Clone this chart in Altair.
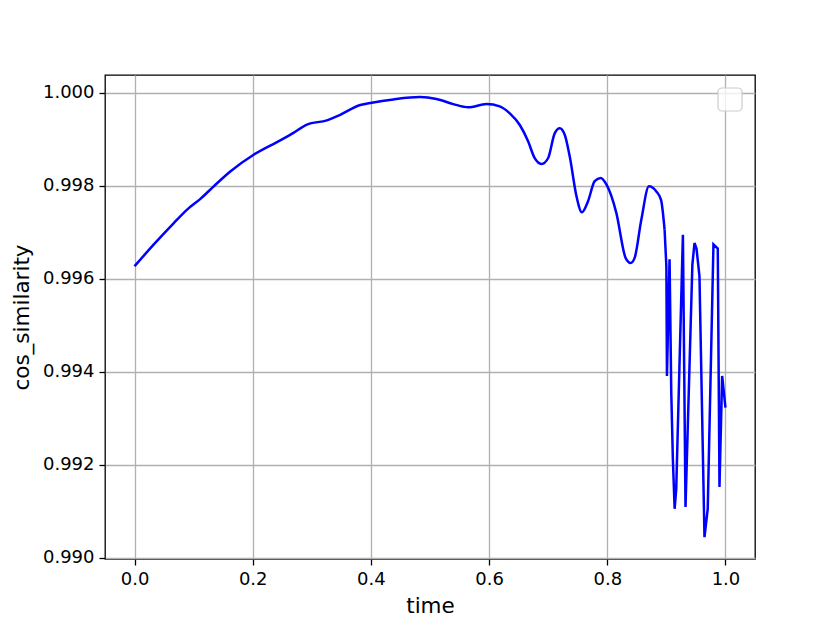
import altair as alt
import pandas as pd

time = [0.0, 0.0326, 0.0664, 0.089, 0.1115, 0.134, 0.162, 0.2015, 0.2466, 0.269,
        0.2917, 0.3255, 0.348, 0.382, 0.4015, 0.438, 0.483, 0.511, 0.5394, 0.5647,
        0.5957, 0.618, 0.635, 0.652, 0.666, 0.677, 0.6887, 0.700, 0.711, 0.7196,
        0.728, 0.7365, 0.748, 0.757, 0.7674, 0.7787, 0.7889, 0.7985, 0.8153, 0.831,
        0.8395, 0.8463, 0.8576, 0.8705, 0.883, 0.891, 0.897,
        0.900, 0.901, 0.9054, 0.9083, 0.911, 0.914, 0.9167, 0.928, 0.9324,
        0.944, 0.9476, 0.951, 0.956, 0.9645, 0.970, 0.9797, 0.987, 0.9899, 0.9944, 1.0]
cos_similarity = [0.99627, 0.99674, 0.99720, 0.99749, 0.99772, 0.99799, 0.99831, 0.99867, 0.99898, 0.99914,
                  0.99932, 0.99941, 0.99953, 0.99974, 0.99979, 0.99986, 0.99991, 0.99987, 0.99976, 0.99969,
                  0.99976, 0.99971, 0.99956, 0.99931, 0.99896, 0.99860, 0.99847, 0.99860, 0.99913, 0.99924,
                  0.99910, 0.99863, 0.99777, 0.99743, 0.99767, 0.99810, 0.99817, 0.99803, 0.99742, 0.99645,
                  0.99634, 0.99645, 0.99727, 0.99799, 0.99788, 0.99770, 0.99706,
                  0.99627, 0.99391, 0.99642, 0.99356, 0.99212, 0.99105, 0.99148, 0.99695, 0.99109,
                  0.99630, 0.99677, 0.99665, 0.99606, 0.99044, 0.99105, 0.99674, 0.99665, 0.99152, 0.99391, 0.99323]

x_ticks = [0.0, 0.2, 0.4, 0.6, 0.8, 1.0]
y_ticks = [0.990, 0.992, 0.994, 0.996, 0.998, 1.000]
smooth_end = 0.897

df = pd.DataFrame({"time": time, "cos_similarity": cos_similarity, "order": list(range(len(time)))})
df_smooth = df[df["time"] <= smooth_end]
df_sharp = df[df["time"] >= smooth_end]

FONT = "DejaVu Sans"

x_enc = alt.X("time:Q",
              scale=alt.Scale(domain=[-0.05, 1.05], nice=False, zero=False),
              axis=alt.Axis(values=x_ticks, format=".1f", title="time", titlePadding=7))
y_enc = alt.Y("cos_similarity:Q",
              scale=alt.Scale(domain=[0.98997, 1.000386], nice=False, zero=False),
              axis=alt.Axis(values=y_ticks, format=".3f", title="cos_similarity", titlePadding=9))

smooth = alt.Chart(df_smooth).mark_line(color="#0000ff", strokeWidth=2.5, interpolate="monotone").encode(
    x=x_enc, y=y_enc, order="order:Q")
sharp = alt.Chart(df_sharp).mark_line(color="#0000ff", strokeWidth=2.5).encode(
    x=x_enc, y=y_enc, order="order:Q")

legend_box = alt.Chart(pd.DataFrame({"a": [0]})).mark_rect(
    fill="white", fillOpacity=0.8, stroke="#cccccc", strokeWidth=1.2, cornerRadius=4
).encode(
    x=alt.value(613), x2=alt.value(637), y=alt.value(13), y2=alt.value(36)
)

chart = alt.layer(smooth, sharp, legend_box).properties(
    width=650, height=484,
    autosize=alt.AutoSizeParams(type="none"),
    padding={"left": 97, "top": 67, "right": 60, "bottom": 64},
).configure_view(
    stroke="black", strokeWidth=1.3
).configure_axis(
    grid=True, gridColor="#b0b0b0", gridWidth=1.3,
    domain=False,
    tickColor="black", tickSize=6, tickWidth=1.3,
    labelFont=FONT, labelFontSize=18, labelColor="black", labelPadding=5,
    titleFont=FONT, titleFontSize=21.5, titleFontWeight="normal", titleColor="black",
)

chart.save("out.html", embed_options={"renderer": "svg", "actions": False})
